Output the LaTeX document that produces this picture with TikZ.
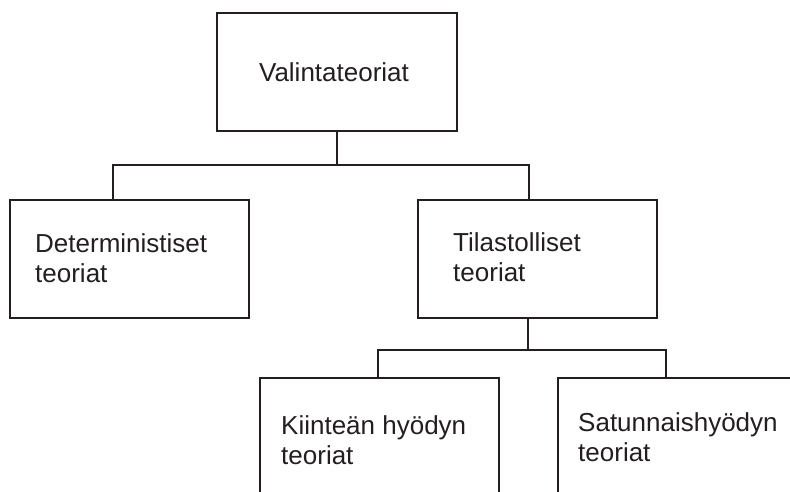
\documentclass[tikz,border=0pt]{standalone}
\usepackage{fontspec}
\setmainfont{Liberation Sans}
\definecolor{ink}{HTML}{231F20}
\begin{document}
\begin{tikzpicture}[x=1pt,y=-1pt,
  box/.style={draw=ink,line width=2.2pt,rectangle,inner sep=0pt,anchor=north west},
  label/.style={inner sep=0pt,anchor=base west,align=left,text=ink,
    font=\fontsize{26}{30}\selectfont},
  link/.style={draw=ink,line width=2.2pt}]
\useasboundingbox (0,0) rectangle (790,492);
\clip (0,0) rectangle (790,492);
\fill[white] (0,0) rectangle (790,492);

% boxes
\node[box,minimum width=240pt,minimum height=118pt] (topbox) at (216,12) {};
\node[box,minimum width=239pt,minimum height=118pt] (detbox) at (9,199) {};
\node[box,minimum width=239pt,minimum height=118pt] (tilbox) at (417,199) {};
\node[box,minimum width=239pt,minimum height=140pt] (kiibox) at (259,377) {};
\node[box,minimum width=239pt,minimum height=140pt] (satbox) at (557,377) {};

% labels (two-line labels are placed by the baseline of their last line)
\node[inner sep=0pt,anchor=base,text=ink,font=\fontsize{26}{30}\selectfont]
  (toptxt) at (334,82) {Valintateoriat};
\node[label] (dettxt) at (35,282) {Deterministiset\\teoriat};
\node[label] (tiltxt) at (453,281) {Tilastolliset\\teoriat};
\node[label] (kiitxt) at (281,464) {Kiinteän hyödyn\\teoriat};
\node[label] (sattxt) at (578,461) {Satunnaishyödyn\\teoriat};

% drop points on the child boxes
\path (detbox.north west) ++(104,0) coordinate (dL);
\path (tilbox.north west) ++(112,0) coordinate (dR);
\path (kiibox.north west) ++(119,0) coordinate (kL);
\path (satbox.north west) ++(109,0) coordinate (kR);

% first level tree
\draw[link] (topbox.south) -- ++(0,33) coordinate (j1);
\draw[link] (dL) |- (j1) -| (dR);

% second level tree
\path (tilbox.south west) ++(111,0) coordinate (tS);
\draw[link] (tS) -- ++(0,31) coordinate (j2);
\draw[link] (kL) |- (j2) -| (kR);
\end{tikzpicture}
\end{document}
